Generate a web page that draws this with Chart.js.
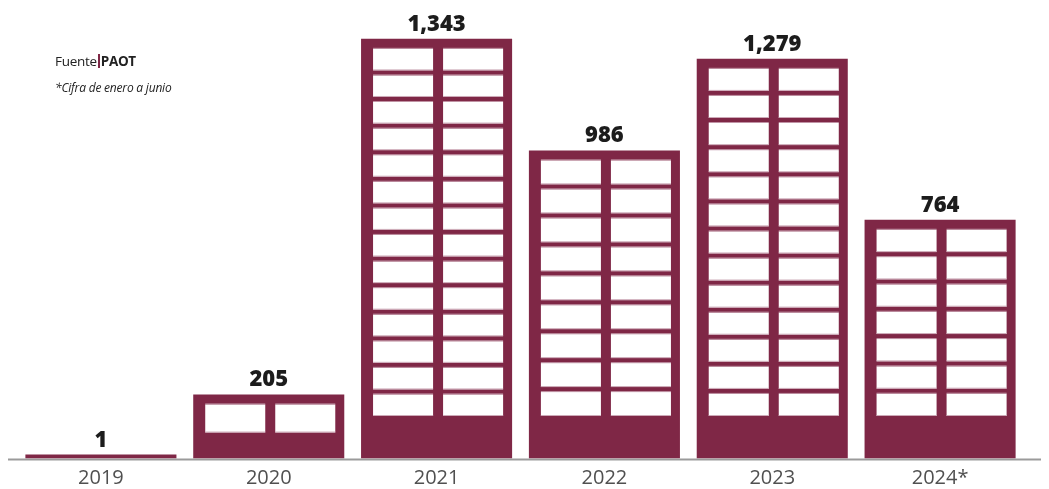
<!DOCTYPE html>
<html>
<head>
<meta charset="utf-8">
<script src="https://cdn.jsdelivr.net/npm/chart.js@4.4.1/dist/chart.umd.min.js"></script>
<style>
  html, body { margin: 0; padding: 0; background: #fff; }
  #wrap { position: relative; width: 1049px; height: 489px; }
  .note { position: absolute; left: 55px; font-family: "Open Sans", sans-serif; color: #222; white-space: nowrap; }
  .bar { display: inline-block; width: 2px; height: 14px; background: #7f2746; vertical-align: -2px; margin: 0 1px; }
</style>
</head>
<body>
<div id="wrap">
  <canvas id="chart" width="1049" height="489"></canvas>
  <div class="note" style="top:52px;font-size:13.5px;letter-spacing:-0.3px">Fuente<span class="bar"></span><b>PAOT</b></div>
  <div class="note" style="top:79px;font-size:12px;font-style:italic;letter-spacing:-0.2px">*Cifra de enero a junio</div>
</div>
<script>
const years = ['2019', '2020', '2021', '2022', '2023', '2024*'];
const cases = [1, 205, 1343, 986, 1279, 764];

const MAROON = '#7f2746';

// axis line, a bit wider than the plot area
const baseLine = {
  id: 'baseLine',
  beforeDatasetsDraw(chart) {
    const ctx = chart.ctx;
    const y = chart.chartArea.bottom + 1;
    ctx.save();
    ctx.strokeStyle = '#9b9b9b';
    ctx.lineWidth = 2;
    ctx.beginPath();
    ctx.moveTo(8, y);
    ctx.lineTo(1041, y);
    ctx.stroke();
    ctx.restore();
  },
};

// windows of each building + value on top
const buildings = {
  id: 'buildings',
  afterDatasetsDraw(chart) {
    const ctx = chart.ctx;
    const meta = chart.getDatasetMeta(0);
    ctx.save();
    meta.data.forEach((bar, i) => {
      const { x, y, base, width } = bar.getProps(['x', 'y', 'base', 'width'], true);
      const left = x - width / 2;
      const h = base - y;
      const ww = (width - 31) / 2;
      const cols = [left + 12, left + 12 + ww + 10];

      const rows = [];
      const gap = 5;
      const area = (base - 42.5) - (y + 10) + gap;
      const n = Math.floor(area / 26.3);
      if (n >= 1) {
        const pitch = area / n;
        for (let k = 0; k < n; k++) rows.push([y + 10 + k * pitch, pitch - gap]);
      } else if (h > 40) {
        rows.push([y + 10, (h - 10) * 0.52]);
      }

      rows.forEach(([wy, wh]) => {
        cols.forEach((wx) => {
          ctx.fillStyle = '#ffffff';
          ctx.fillRect(wx, wy, ww, wh);
          ctx.fillStyle = 'rgba(200,160,175,0.9)';
          ctx.fillRect(wx, wy - 1, ww, 1);
          ctx.fillRect(wx, wy + wh - 1, ww, 1);
        });
      });

      ctx.fillStyle = '#1c1c1c';
      ctx.font = '800 22px "Open Sans", sans-serif';
      ctx.textAlign = 'center';
      ctx.textBaseline = 'alphabetic';
      ctx.fillText(cases[i].toLocaleString('en-US'), x, y - 8);
    });
    ctx.restore();
  },
};

new Chart(document.getElementById('chart'), {
  type: 'bar',
  data: {
    labels: years,
    datasets: [{
      data: cases,
      backgroundColor: MAROON,
      borderWidth: 0,
      categoryPercentage: 1,
      barPercentage: 0.9,
      minBarLength: 4,
    }],
  },
  options: {
    responsive: false,
    animation: false,
    devicePixelRatio: 1,
    layout: { padding: { left: 17, right: 25, top: 21, bottom: -8.5 } },
    plugins: {
      legend: { display: false },
      tooltip: { enabled: false },
    },
    scales: {
      x: {
        grid: { display: false, drawTicks: false },
        border: { display: false },
        ticks: {
          color: '#505050',
          padding: 7.5,
          font: { family: '"Open Sans", sans-serif', size: 20 },
        },
      },
      y: {
        display: false,
        min: 0,
        max: 1400,
      },
    },
  },
  plugins: [baseLine, buildings],
});
</script>
</body>
</html>
